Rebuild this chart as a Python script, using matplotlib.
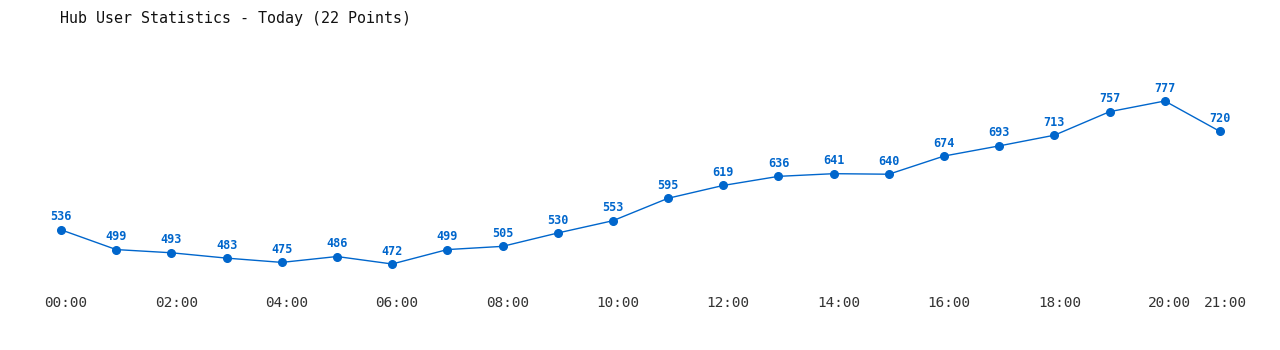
import matplotlib
matplotlib.use("Agg")
import matplotlib.pyplot as plt
from matplotlib.transforms import ScaledTranslation

hours = list(range(22))
users = [536, 499, 493, 483, 475, 486, 472, 499, 505, 530, 553,
         595, 619, 636, 641, 640, 674, 693, 713, 757, 777, 720]
tick_hours = [0, 2, 4, 6, 8, 10, 12, 14, 16, 18, 20, 21]
tick_labels = ["00:00", "02:00", "04:00", "06:00", "08:00", "10:00",
               "12:00", "14:00", "16:00", "18:00", "20:00", "21:00"]

W, H = 1280, 350
blue = "#0066cc"
mono = ["DejaVu Sans Mono"]

fig = plt.figure(figsize=(W / 100, H / 100), dpi=100)
# axes box placed so that 00:00 / 21:00 and min / max land where they are in the original
ax = fig.add_axes([61 / W, 1 - 264 / H, (1220 - 61) / W, (264 - 101) / H])
ax.set_xlim(0, 21)
ax.set_ylim(min(users), max(users))

ax.plot(hours, users, color=blue, lw=1, marker="o", ms=5.5, clip_on=False)
for h, u in zip(hours, users):
    ax.annotate(str(u), (h, u), xytext=(0, 13), textcoords="offset pixels",
                ha="center", va="center", color=blue, fontsize=8.5,
                fontweight="bold", family=mono)

ax.set_xticks(tick_hours)
ax.set_xticklabels(tick_labels, family=mono, fontsize=10.4, color="#333333")
ax.tick_params(axis="x", length=0, pad=23)
# labels sit a few pixels right of their points in the original
shift = ScaledTranslation(5 / 100, 0, fig.dpi_scale_trans)
for lab in ax.get_xticklabels():
    lab.set_transform(lab.get_transform() + shift)
ax.set_yticks([])
for s in ax.spines.values():
    s.set_visible(False)

fig.text(60 / W, 1 - 18 / H, "Hub User Statistics - Today (22 Points)",
         ha="left", va="center", family=mono, fontsize=10.8, color="#111111")

fig.savefig("out.png", dpi=100, facecolor="white")
